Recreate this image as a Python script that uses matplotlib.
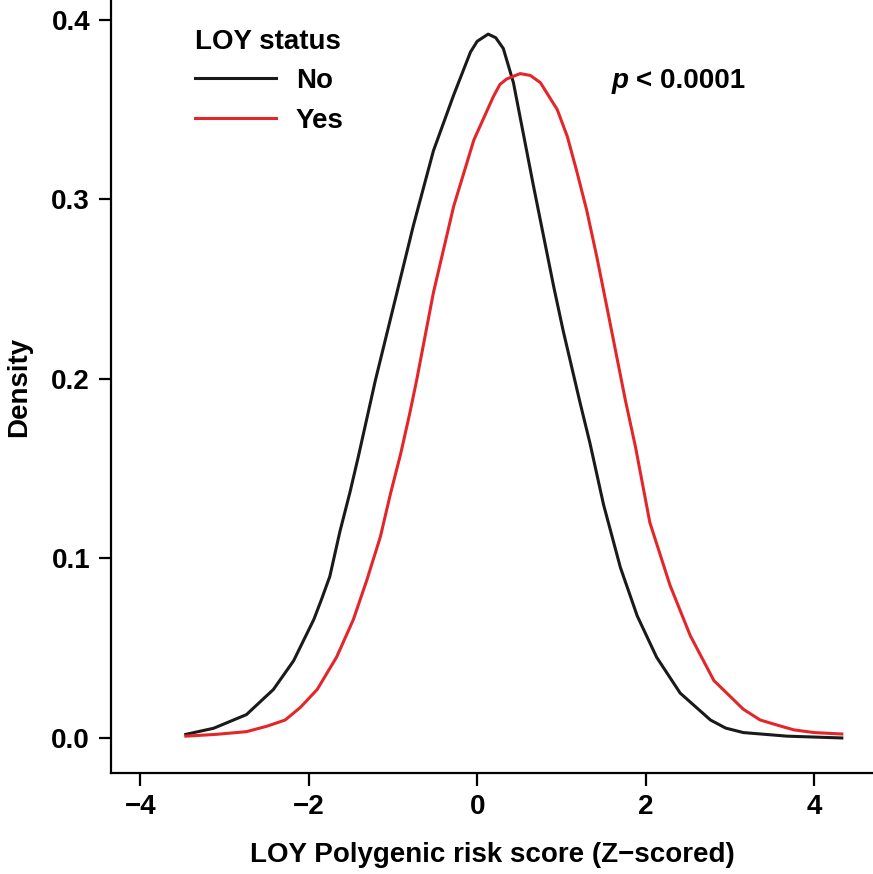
import matplotlib
matplotlib.use("Agg")
import matplotlib.pyplot as plt

plt.rcParams["font.family"] = ["Liberation Sans", "DejaVu Sans"]
plt.rcParams["font.weight"] = "bold"

# curvas de densidad
x_no = [-3.46, -3.13, -2.74, -2.42, -2.18, -1.94, -1.85, -1.75, -1.63, -1.51, -1.41,
        -1.31, -1.21, -0.99, -0.76, -0.52, -0.28, -0.08, 0.0, 0.13, 0.22, 0.31, 0.43,
        0.55, 0.67, 0.79, 0.91, 1.02, 1.10, 1.22, 1.34, 1.50, 1.70, 1.90, 2.13, 2.41,
        2.77, 2.95, 3.16, 3.68, 4.33]
y_no = [0.002, 0.0054, 0.013, 0.027, 0.043, 0.066, 0.077, 0.090, 0.115, 0.137, 0.157,
        0.178, 0.199, 0.241, 0.285, 0.327, 0.358, 0.382, 0.388, 0.392, 0.390, 0.384, 0.365,
        0.336, 0.307, 0.279, 0.251, 0.227, 0.211, 0.187, 0.164, 0.130, 0.095, 0.068, 0.045,
        0.025, 0.010, 0.0055, 0.003, 0.001, 0.0]

x_yes = [-3.46, -3.10, -2.74, -2.50, -2.28, -2.10, -1.90, -1.67, -1.47, -1.31, -1.15,
         -1.03, -0.91, -0.80, -0.72, -0.52, -0.28, -0.04, 0.19, 0.27, 0.35, 0.51, 0.63,
         0.75, 0.95, 1.07, 1.18, 1.30, 1.42, 1.54, 1.65, 1.76, 1.88, 2.05, 2.29, 2.53,
         2.81, 3.16, 3.36, 3.56, 3.76, 4.00, 4.33]
y_yes = [0.001, 0.002, 0.0035, 0.0065, 0.010, 0.017, 0.027, 0.045, 0.066, 0.088, 0.112,
         0.136, 0.158, 0.181, 0.199, 0.248, 0.296, 0.333, 0.357, 0.364, 0.367, 0.370, 0.369,
         0.365, 0.350, 0.335, 0.316, 0.294, 0.268, 0.240, 0.214, 0.188, 0.162, 0.120, 0.085,
         0.057, 0.032, 0.016, 0.010, 0.0072, 0.0045, 0.003, 0.0022]

fig = plt.figure(figsize=(8.73, 8.74), dpi=100)
ax = fig.add_axes([0.127, 0.1156, 0.873, 0.8844])

ax.plot(x_no, y_no, color="#1a1a1a", lw=2.2, label="No", solid_joinstyle="round")
ax.plot(x_yes, y_yes, color="#e3262a", lw=2.2, label="Yes", solid_joinstyle="round")

ax.set_xlim(-4.35, 4.70)
ax.set_ylim(-0.0195, 0.411)
ax.set_xticks([-4, -2, 0, 2, 4])
ax.set_xticklabels(["\u22124", "\u22122", "0", "2", "4"])
ax.set_yticks([0.0, 0.1, 0.2, 0.3, 0.4])
ax.set_yticklabels(["0.0", "0.1", "0.2", "0.3", "0.4"])

for s in ["top", "right"]:
    ax.spines[s].set_visible(False)
for s in ["left", "bottom"]:
    ax.spines[s].set_linewidth(1.6)
ax.tick_params(width=1.6, length=9, labelsize=20, pad=6)

ax.set_xlabel("LOY Polygenic risk score (Z\u2212scored)", fontsize=20, fontweight="bold", labelpad=16)
ax.set_ylabel("Density", fontsize=20, fontweight="bold", labelpad=14)

leg = ax.legend(loc="upper left", bbox_to_anchor=(0.078, 0.995), frameon=False,
                title="LOY status", fontsize=20, handlelength=2.9, handletextpad=0.72,
                labelspacing=0.48, alignment="left")
leg.get_title().set_fontsize(20)
leg.get_title().set_fontweight("bold")

ax.text(1.60, 0.366, "p", fontsize=20, fontweight="bold", style="italic", va="center")
ax.text(1.88, 0.366, "< 0.0001", fontsize=20, fontweight="bold", va="center")

plt.savefig("out.png", dpi=100)
